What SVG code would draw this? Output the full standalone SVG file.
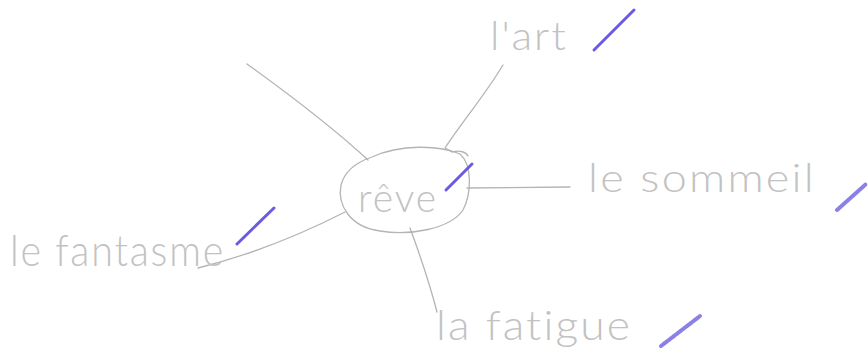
<svg xmlns="http://www.w3.org/2000/svg" width="868" height="360" viewBox="0 0 868 360">
<style>
.bg{fill:#fff}
.pen{fill:none;stroke:#b4b4b4;stroke-width:1.3;stroke-linecap:round;stroke-linejoin:round}
.lbl{font-family:Lato,"Open Sans","Liberation Sans",sans-serif;font-weight:300;fill:#c2c2c2;letter-spacing:2px}
.blue{fill:none;stroke:#6a5ce0;stroke-width:3;stroke-linecap:round}
.blue2{fill:none;stroke:#8a80e6;stroke-width:4;stroke-linecap:round;stroke-dasharray:2 1}
</style>
<rect class="bg" width="868" height="360"/>
<g id="connectors">
<path class="pen" d="M247,64 C290,95 330,125 368,160"/>
<path class="pen" d="M503,65 C485,95 462,122 445,148 L452,152 C460,150 466,152 468,156"/>
<path class="pen" d="M467,188 L570,187"/>
<path class="pen" d="M345,212 C300,235 250,255 198,268"/>
<path class="pen" d="M410,228 C420,255 430,285 437,312"/>
</g>
<g id="node-reve">
<path class="pen" d="M372,157 C400,144 440,145 460,154 C473,165 471,195 463,210 C450,229 410,236 380,231 C350,227 337,205 341,185 C345,170 357,162 372,157 Z"/>
<text class="lbl" x="358" y="212" font-size="40" textLength="80" lengthAdjust="spacingAndGlyphs">rêve</text>
<path class="blue" d="M446,190 L472,164"/>
</g>
<g id="node-art">
<text class="lbl" x="490" y="50" font-size="40" textLength="78" lengthAdjust="spacingAndGlyphs">l'art</text>
<path class="blue" d="M594,50 L634,10"/>
</g>
<g id="node-sommeil">
<text class="lbl" x="588" y="192" font-size="40" textLength="228" lengthAdjust="spacingAndGlyphs">le sommeil</text>
<path class="blue2" d="M837,210 L866,184"/>
</g>
<g id="node-fantasme">
<text class="lbl" x="10" y="266" font-size="44" textLength="215" lengthAdjust="spacingAndGlyphs">le fantasme</text>
<path class="blue" d="M237,244 L274,208"/>
</g>
<g id="node-fatigue">
<text class="lbl" x="436" y="340" font-size="42" textLength="196" lengthAdjust="spacingAndGlyphs">la fatigue</text>
<path class="blue2" d="M661,346 L700,316"/>
</g>
</svg>
